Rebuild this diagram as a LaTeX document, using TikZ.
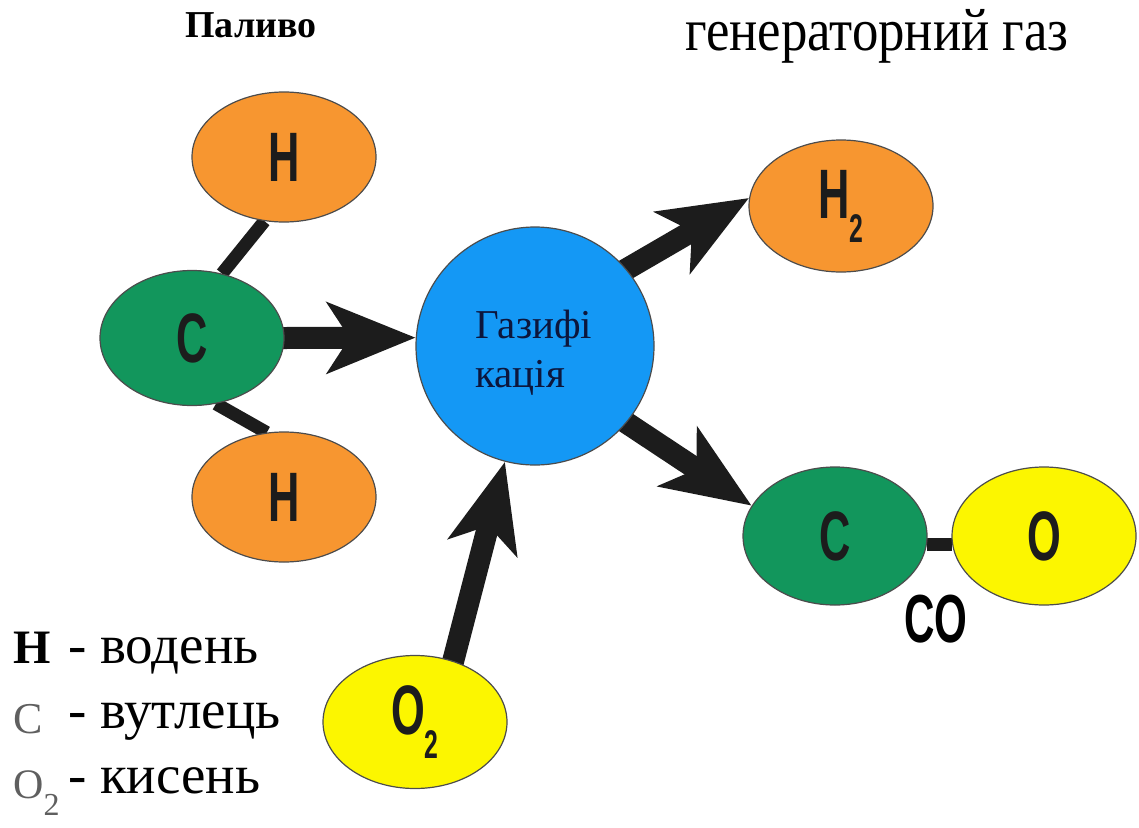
\documentclass[tikz,border=0pt]{standalone}
\usepackage{fontspec}
\setmainfont{Liberation Serif}
\newfontfamily\atomfont[FakeStretch=0.62]{Liberation Sans}
\newfontfamily\headfont[FakeStretch=0.88]{Liberation Serif}
\usetikzlibrary{shapes.geometric,arrows.meta,backgrounds}

\definecolor{hydorange}{RGB}{247,150,48}
\definecolor{carbgreen}{RGB}{18,150,92}
\definecolor{oxyyellow}{RGB}{252,246,0}
\definecolor{gasblue}{RGB}{20,152,245}
\definecolor{inkblack}{RGB}{28,28,28}
\definecolor{keygray}{RGB}{95,95,95}
\definecolor{navy}{RGB}{12,22,60}

\tikzset{
  atom/.style={ellipse,draw=black!70,line width=1.2pt,inner sep=0pt,
    minimum width=184pt,minimum height=130pt,
    font=\atomfont\bfseries\fontsize{70}{70}\selectfont,text=inkblack},
  hyd/.style={atom,fill=hydorange},
  carb/.style={atom,fill=carbgreen},
  oxy/.style={atom,fill=oxyyellow},
  bond/.style={line width=13pt,inkblack},
  flow/.style={line width=22pt,inkblack,shorten <=-6pt,
    -{Stealth[length=88pt,width=70pt,inset=22pt]}},
  key/.style={anchor=base west,inner sep=0pt,font=\fontsize{55}{55}\selectfont},
}
\newcommand{\sub}[1]{\raisebox{-24pt}{\fontsize{40}{40}\selectfont #1}}

\begin{document}
\begin{tikzpicture}[x=1pt,y=-1pt]
\useasboundingbox (0,0) rectangle (1139,827);

% headings
\node(fuel) at (185,37)[anchor=base west,inner sep=0pt,font=\bfseries\fontsize{38}{38}\selectfont] {Паливо};
\node(prod) at (685,50)[anchor=base west,inner sep=0pt,font=\headfont\fontsize{60}{60}\selectfont] {генераторний газ};

% fuel molecule
\node(hu) at (284,157)[hyd]                      {H};
\node(cl) at (192,338)[carb,minimum height=135pt] {C};
\node(hd) at (284,497)[hyd]                      {H};

% reactor
\node(gas) at (535,346)[circle,fill=gasblue,draw=black!70,line width=1.2pt,minimum size=238pt,inner sep=0pt] {};
\node(gas1) at (475,338)[anchor=base west,inner sep=0pt,text=navy,font=\fontsize{41}{41}\selectfont] {Газифі};
\node(gas2) at (475,387)[anchor=base west,inner sep=0pt,text=navy,font=\fontsize{41}{41}\selectfont] {кація};

% oxygen feed
\node(o2) at (415,722)[oxy,minimum height=133pt] {O\sub{2}};

% products
\node(h2) at (841,206)[hyd,minimum height=132pt] {H\sub{2}};
\node(cr) at (835,536)[carb,minimum height=138pt] {C};
\node(or) at (1044,536)[oxy,minimum height=138pt] {O};
\node(co) at (936,642)[anchor=base,inner sep=0pt,font=\atomfont\bfseries\fontsize{68}{68}\selectfont] {CO};

\begin{scope}[on background layer]
\path [bond]
  (cl.65)  edge (hu.253)
  (cl.290) edge (hd.105)
  (cr.-5)  edge (or.185);

\path [flow]
  (cl.east) edge (gas.176)
  (o2.58)   edge (gas)
  (gas.40)  edge (h2.175)
  (gas.-40) edge (cr.160);
\end{scope}

% legend
\node(kh) at (13,663)[key,font=\bfseries\fontsize{48}{48}\selectfont] {H};
\node(th) at (68,663)[key] {- водень};
\node(kc) at (13,733)[key,text=keygray,font=\fontsize{44}{44}\selectfont] {C};
\node(tc) at (68,728)[key] {- вутлець};
\node(ko) at (13,798)[key,text=keygray,font=\fontsize{42}{42}\selectfont] {O\raisebox{-17pt}{\fontsize{32}{32}\selectfont 2}};
\node(to) at (68,793)[key] {- кисень};

\end{tikzpicture}
\end{document}
